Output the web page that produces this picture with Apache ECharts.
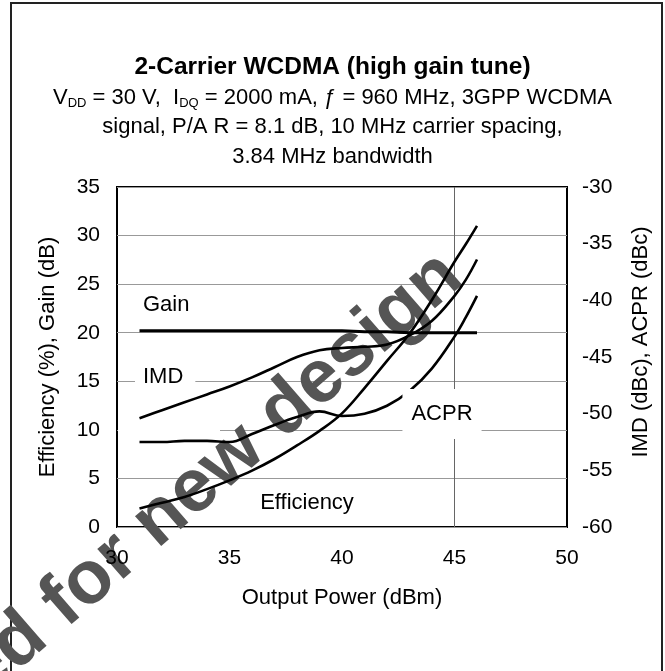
<!DOCTYPE html>
<html>
<head>
<meta charset="UTF-8">
<title>2-Carrier WCDMA</title>
<script src="https://cdn.jsdelivr.net/npm/echarts@6/dist/echarts.min.js"></script>
<style>
  html, body { margin: 0; padding: 0; background: #fff; }
</style>
</head>
<body>
<div id="main" style="width: 665px;height:671px;"></div>
<script type="text/javascript">
// output power, dBm
var power = [31, 32, 33, 34, 35, 36, 37, 38, 39, 40, 41, 42, 43, 44, 45, 45.5, 46];
// left axis
var gain = [20.2, 20.2, 20.2, 20.2, 20.2, 20.2, 20.2, 20.2, 20.2, 20.2, 20.1, 20.1, 20.0, 20.0, 20.0, 20.0, 20.0];
var efficiency = [1.9, 2.5, 3.1, 3.9, 4.8, 5.8, 7.0, 8.4, 9.9, 11.7, 14.3, 17.1, 19.9, 23.4, 27.3, 29.1, 31.0];
// right axis, dBc
var imd = [-50.4, -49.7, -49.0, -48.3, -47.6, -46.8, -45.9, -45.0, -44.4, -44.2, -44.1, -43.9, -43.1, -41.8, -39.6, -38.2, -36.4];
var acpr = [-52.5, -52.5, -52.4, -52.4, -52.5, -51.8, -51.0, -50.3, -49.8, -50.2, -50.0, -49.3, -48.0, -46.0, -43.2, -41.5, -39.6];

var xTicks = [30, 35, 40, 45, 50];
var leftTicks = [0, 5, 10, 15, 20, 25, 30, 35];
var rightTicks = [-60, -55, -50, -45, -40, -35, -30];

function pairs(ys) {
    var out = [];
    for (var i = 0; i < power.length; i++) {
        out.push([power[i], ys[i]]);
    }
    return out;
}

var FONT = 'Arial, "Liberation Sans", sans-serif';

var chartDom = document.getElementById('main');
var myChart = echarts.init(chartDom, null, { renderer: 'canvas' });

function curve(name, ys, axisIdx, width) {
    return {
        name: name,
        type: 'line',
        yAxisIndex: axisIdx,
        data: pairs(ys),
        smooth: 0.4,
        showSymbol: false,
        silent: true,
        lineStyle: { color: '#000', width: width },
        z: 3
    };
}

var gainSeries = curve('Gain', gain, 0, 3);
gainSeries.markLine = {
    silent: true,
    symbol: 'none',
    label: { show: false },
    lineStyle: { color: '#666', width: 1, type: 'solid' },
    data: [{ xAxis: xTicks[3] }],
    z: 1
};

myChart.setOption({
    animation: false,
    textStyle: { fontFamily: FONT, color: '#000' },
    title: {
        text: '2-Carrier WCDMA (high gain tune)',
        left: 'center',
        top: 48,
        itemGap: 2,
        textStyle: { fontSize: 24.5, fontWeight: 'bold', color: '#000', lineHeight: 28, fontFamily: FONT },
        subtext: 'V{s|DD} = 30 V,  I{s|DQ} = 2000 mA, ƒ = 960 MHz, 3GPP WCDMA\n' +
                 'signal, P/A R = 8.1 dB, 10 MHz carrier spacing,\n' +
                 '3.84 MHz bandwidth',
        subtextStyle: {
            fontSize: 22, color: '#000', lineHeight: 29.5, fontFamily: FONT, align: 'center',
            rich: {
                s: { fontSize: 13, lineHeight: 12, padding: [12, 0, 0, 0], color: '#000', fontFamily: FONT }
            }
        }
    },
    grid: {
        left: 117, right: 98, top: 187, bottom: 144,
        show: true, borderColor: '#000', borderWidth: 2, backgroundColor: 'transparent'
    },
    xAxis: {
        type: 'value', min: 30, max: 50, interval: 5, z: 5,
        name: 'Output Power (dBm)', nameLocation: 'middle', nameGap: 60,
        nameTextStyle: { fontSize: 22, color: '#000' },
        axisLine: { show: false }, axisTick: { show: false },
        axisLabel: { fontSize: 21, color: '#000', margin: 21 },
        splitLine: { show: false }
    },
    yAxis: [{
        type: 'value', min: 0, max: 35, interval: 5,
        name: 'Efficiency (%), Gain (dB)', nameLocation: 'middle', nameGap: 58, nameRotate: 90,
        nameTextStyle: { fontSize: 22, color: '#000' },
        axisLine: { show: false }, axisTick: { show: false },
        axisLabel: { fontSize: 21, color: '#000', margin: 17 },
        splitLine: { show: true, lineStyle: { color: '#999', width: 1 } }
    }, {
        type: 'value', min: -60, max: -30, interval: 5, position: 'right',
        name: 'IMD (dBc), ACPR (dBc)', nameLocation: 'middle', nameGap: 63, nameRotate: 90,
        nameTextStyle: { fontSize: 22, color: '#000', padding: [0, 0, 0, 30] },
        axisLine: { show: false }, axisTick: { show: false },
        axisLabel: { fontSize: 21, color: '#000', margin: 15 },
        splitLine: { show: false }
    }],
    series: [
        gainSeries,
        curve('Efficiency', efficiency, 0, 2.6),
        curve('IMD', imd, 1, 2.6),
        curve('ACPR', acpr, 1, 2.6)
    ],
    graphic: [
        // outer frame
        { type: 'rect', z: 0, silent: true,
          shape: { x: 11, y: 3, width: 651, height: 720 },
          style: { fill: 'none', stroke: '#222', lineWidth: 2 } },
        // gap in the 10 grid line
        { type: 'rect', z: 1, silent: true,
          shape: { x: 118, y: 427, width: 102, height: 5 },
          style: { fill: '#fff' } },
        // watermark
        { type: 'text', z: 2, silent: true, x: 452, y: 266, rotation: 41 * Math.PI / 180,
          style: { text: 'Not Recommended for new design', font: 'bold 75px ' + FONT,
                   fill: '#555', align: 'right', verticalAlign: 'middle',
                   textAlign: 'right', textVerticalAlign: 'middle' } },
        // curve labels
        { type: 'text', z: 10, silent: true, x: 143, y: 305,
          style: { text: 'Gain', font: '22px ' + FONT, fill: '#000',
                   align: 'left', verticalAlign: 'middle', textAlign: 'left', textVerticalAlign: 'middle' } },
        { type: 'text', z: 10, silent: true, x: 135, y: 377,
          style: { text: 'IMD', font: '22px ' + FONT, fill: '#000', backgroundColor: '#fff', padding: [5, 12, 5, 8],
                   align: 'left', verticalAlign: 'middle', textAlign: 'left', textVerticalAlign: 'middle' } },
        { type: 'text', z: 10, silent: true, x: 442, y: 414,
          style: { text: 'ACPR', font: '22px ' + FONT, fill: '#000', backgroundColor: '#fff', padding: [14, 9, 14, 9],
                   align: 'center', verticalAlign: 'middle', textAlign: 'center', textVerticalAlign: 'middle' } },
        { type: 'text', z: 10, silent: true, x: 307, y: 503,
          style: { text: 'Efficiency', font: '22px ' + FONT, fill: '#000',
                   align: 'center', verticalAlign: 'middle', textAlign: 'center', textVerticalAlign: 'middle' } }
    ]
});
</script>
</body>
</html>
